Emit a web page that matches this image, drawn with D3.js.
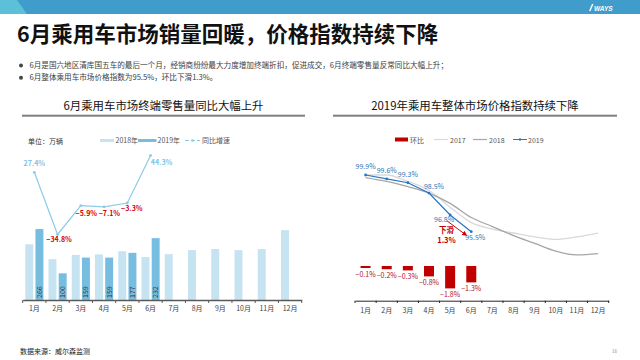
<!DOCTYPE html>
<html><head><meta charset="utf-8">
<script src="https://cdn.jsdelivr.net/npm/d3@7"></script>
<style>
body{margin:0;background:#fff;}
svg{display:block;font-family:"Noto Sans CJK SC","Noto Sans",sans-serif;}
</style></head>
<body>
<svg id="c" width="640" height="360"></svg>
<script>
// ---------- data ----------
const months = ["1月","2月","3月","4月","5月","6月","7月","8月","9月","10月","11月","12月"];
const sales2018 = [209,153,169,171,183,161,172,187,191,187,191,262];
const sales2019 = [266,100,159,159,177,232];
const yoyGrowth = [27.4,-34.8,-5.9,-7.1,-3.3,44.3];
const yoyLabels = ["27.4%","−34.8%","−5.9%","−7.1%","−3.3%","44.3%"];
const index2017 = [99.9,99.9,99.4,98.7,97.4,96.2,95.7,95.4,95.1,94.9,95.1,95.4];
const index2018 = [99.7,99.4,99.0,98.5,97.7,96.6,95.9,95.2,94.6,94.0,93.7,93.8];
const index2019 = [99.9,99.6,99.3,98.5,96.8,95.5];
const momChange = [-0.1,-0.2,-0.3,-0.8,-1.8,-1.3];
const titleText = "6月乘用车市场销量回暖，价格指数持续下降";
const bullets = ["6月是国六地区清库国五车的最后一个月，经销商纷纷最大力度增加终端折扣，促进成交，6月终端零售量反常同比大幅上升；",
                 "6月整体乘用车市场价格指数为95.5%，环比下滑1.3%。"];
const leftTitle = "6月乘用车市场终端零售量同比大幅上升";
const rightTitle = "2019年乘用车整体市场价格指数持续下降";

const svg = d3.select("#c");

// ---------- header ----------
svg.append("rect").attr("x",0).attr("y",0).attr("width",640).attr("height",14).attr("fill","#3f9ccb");
svg.append("path").attr("d","M0,0 L17,0 L27,14 L0,14 Z").attr("fill","#5cc0d8");
svg.append("path").attr("d","M589,11 L592,4 L593.5,4 L590.5,11 Z").attr("fill","#fff");
svg.append("text").attr("x",594).attr("y",10.5).attr("fill","#fff").attr("font-size",6.5)
  .attr("font-weight",700).attr("font-style","italic").attr("font-family","Liberation Sans, sans-serif").text("WAYS");

svg.append("text").attr("x",17).attr("y",42).attr("font-size",21.5).attr("font-weight",700)
  .attr("fill","#111").text(titleText);

bullets.forEach((b,i)=>{
  const y = 65.5 + i*12.2;
  svg.append("circle").attr("cx",21).attr("cy",y).attr("r",2).attr("fill","#444");
  svg.append("text").attr("x",29.5).attr("y",y+2.6).attr("font-size",7.6).attr("fill","#404040").text(b);
});

// chart titles
svg.append("text").attr("x",163.5).attr("y",110).attr("text-anchor","middle").attr("font-size",11.4).attr("fill","#111").text(leftTitle);
svg.append("rect").attr("x",22).attr("y",114.7).attr("width",283).attr("height",2).attr("fill","#7f7f7f");
svg.append("text").attr("x",475).attr("y",110).attr("text-anchor","middle").attr("font-size",11.4).attr("fill","#111").text(rightTitle);
svg.append("rect").attr("x",333).attr("y",114.7).attr("width",284).attr("height",2).attr("fill","#7f7f7f");

// ---------- left chart ----------
const cLight="#c6e3f1", cDark="#77bde0", cLine="#8ccbe8";
const xL = d3.scaleBand().domain(months).range([22.7,301.7]);
const xLin = d3.scaleBand().domain(["2018","2019"]).range([0,xL.bandwidth()]).paddingInner(0.22).paddingOuter(0.25);
const yBar = d3.scaleLinear().domain([0,300]).range([300,220]);
const yPct = d3.scaleLinear().domain([-40,50]).range([239.7,149.7]);
const gL = svg.append("g");

// legend
gL.append("text").attr("x",28).attr("y",144).attr("font-size",7).attr("fill","#333").text("单位：万辆");
gL.append("rect").attr("x",100).attr("y",139).attr("width",14).attr("height",3).attr("fill",cLight);
gL.append("text").attr("x",115.5).attr("y",143).attr("font-size",7).attr("fill","#555").text("2018年");
gL.append("rect").attr("x",138).attr("y",139).attr("width",18.5).attr("height",3).attr("fill",cDark);
gL.append("text").attr("x",157.5).attr("y",143).attr("font-size",7).attr("fill","#555").text("2019年");
gL.append("line").attr("x1",185).attr("x2",200).attr("y1",140.5).attr("y2",140.5).attr("stroke",cLine).attr("stroke-width",1).attr("stroke-dasharray","4,2");
gL.append("circle").attr("cx",192.5).attr("cy",140.5).attr("r",1.3).attr("fill",cLine);
gL.append("text").attr("x",202).attr("y",143).attr("font-size",7).attr("fill","#555").text("同比增速");

// bars
gL.selectAll(".b18").data(sales2018).join("rect")
  .attr("x",(d,i)=>xL(months[i])+xLin("2018")).attr("width",xLin.bandwidth())
  .attr("y",d=>yBar(d)).attr("height",d=>yBar(0)-yBar(d)).attr("fill",cLight);
gL.selectAll(".b19").data(sales2019).join("rect")
  .attr("x",(d,i)=>xL(months[i])+xLin("2019")).attr("width",xLin.bandwidth())
  .attr("y",d=>yBar(d)).attr("height",d=>yBar(0)-yBar(d)).attr("fill",cDark);
gL.selectAll(".v19").data(sales2019).join("text")
  .attr("transform",(d,i)=>`translate(${xL(months[i])+xLin("2019")+xLin.bandwidth()/2+2.4},${yBar(0)-2}) rotate(-90)`)
  .attr("font-size",7).attr("fill","#333").text(d=>d);

// axis
const axL = gL.append("g").attr("transform","translate(0,300)")
  .call(d3.axisBottom(xL).tickSize(0).tickPadding(6));
axL.select(".domain").attr("stroke","#595959").attr("stroke-width",1.5);
axL.selectAll("text").attr("font-size",7).attr("fill","#404040").attr("font-family","Noto Sans CJK SC");
gL.selectAll(".tkL").data(months.concat(["end"])).join("line")
  .attr("x1",(d,i)=>i<12?xL(d):xL.range()[1]).attr("x2",(d,i)=>i<12?xL(d):xL.range()[1])
  .attr("y1",300).attr("y2",303).attr("stroke","#595959").attr("stroke-width",1);

// growth line
const lineL = d3.line().x((d,i)=>xL(months[i])+xL.bandwidth()/2).y(d=>yPct(d));
gL.append("path").datum(yoyGrowth).attr("d",lineL).attr("fill","none").attr("stroke",cLine).attr("stroke-width",1.2);
gL.selectAll(".dotL").data(yoyGrowth).join("circle")
  .attr("cx",(d,i)=>xL(months[i])+xL.bandwidth()/2).attr("cy",d=>yPct(d)).attr("r",1.4).attr("fill",cLine);
const lblOff = [[0,-9],[1.5,5],[5.5,7.4],[5.3,6.2],[4.5,5.7],[11,7.4]];
gL.selectAll(".lblL").data(yoyGrowth).join("text")
  .attr("x",(d,i)=>xL(months[i])+xL.bandwidth()/2+lblOff[i][0])
  .attr("y",(d,i)=>yPct(d)+lblOff[i][1]+2.5)
  .attr("text-anchor","middle").attr("font-size",7).attr("font-weight",700)
  .attr("fill",d=>d>0?"#7ec3e4":"#d00000").text((d,i)=>yoyLabels[i]);

// ---------- right chart ----------
const cRed="#c00000", c17="#d9d9d9", c18="#a6a6a6", c19="#2676c4";
const xR = d3.scaleBand().domain(months).range([355,608.7]);
const cx = i=>xR(months[i])+xR.bandwidth()/2;
const yIdx = d3.scaleLinear().domain([93,100]).range([175+6.9*12.89,175-0.1*12.89]);
const yMom = d3.scaleLinear().domain([-2,0]).range([290,266]);
const gR = svg.append("g");

// legend
gR.append("rect").attr("x",395).attr("y",137.5).attr("width",13).attr("height",4).attr("fill",cRed);
gR.append("text").attr("x",410).attr("y",142.5).attr("font-size",7).attr("fill","#555").text("环比");
gR.append("line").attr("x1",434).attr("x2",448).attr("y1",139.5).attr("y2",139.5).attr("stroke",c17).attr("stroke-width",1.2);
gR.append("text").attr("x",450).attr("y",142.5).attr("font-size",7).attr("fill","#555").text("2017");
gR.append("line").attr("x1",473).attr("x2",487).attr("y1",139.5).attr("y2",139.5).attr("stroke",c18).attr("stroke-width",1.2);
gR.append("text").attr("x",489).attr("y",142.5).attr("font-size",7).attr("fill","#555").text("2018");
gR.append("line").attr("x1",513).attr("x2",527).attr("y1",139.5).attr("y2",139.5).attr("stroke",c19).attr("stroke-width",1);
gR.append("circle").attr("cx",520).attr("cy",139.5).attr("r",1.2).attr("fill",c19);
gR.append("text").attr("x",528).attr("y",142.5).attr("font-size",7).attr("fill","#555").text("2019");

// mom bars
gR.selectAll(".mb").data(momChange).join("rect")
  .attr("x",(d,i)=>cx(i)-5).attr("width",10)
  .attr("y",yMom(0)).attr("height",d=>yMom(d)-yMom(0)+0.8).attr("fill",cRed);
gR.selectAll(".ml").data(momChange).join("text")
  .attr("x",(d,i)=>cx(i)).attr("y",d=>yMom(d)+9.5).attr("text-anchor","middle")
  .attr("font-size",7).attr("fill","#b0102a").text(d=>"−"+Math.abs(d).toFixed(1)+"%");

// index lines
const lineSmooth = d3.line().x((d,i)=>cx(i)).y(d=>yIdx(d)).curve(d3.curveMonotoneX);
gR.append("path").datum(index2017).attr("d",lineSmooth).attr("fill","none").attr("stroke",c17).attr("stroke-width",1.3);
gR.append("path").datum(index2018).attr("d",lineSmooth).attr("fill","none").attr("stroke",c18).attr("stroke-width",1.3);
const line19 = d3.line().x((d,i)=>cx(i)).y(d=>yIdx(d));
gR.append("path").datum(index2019).attr("d",line19).attr("fill","none").attr("stroke",c19).attr("stroke-width",1.2);
gR.selectAll(".d19").data(index2019).join("circle")
  .attr("cx",(d,i)=>cx(i)).attr("cy",d=>yIdx(d)).attr("r",1.4).attr("fill",c19);
const off19 = [[0,-9],[0,-8],[0,-8],[5,-7],[-6,5],[4,5.6]];
gR.selectAll(".l19").data(index2019).join("text")
  .attr("x",(d,i)=>cx(i)+off19[i][0]).attr("y",(d,i)=>yIdx(d)+off19[i][1]+2.5)
  .attr("text-anchor","middle").attr("font-size",7).attr("fill","#2e75b6")
  .text(d=>d.toFixed(1)+"%");

// annotation arrow
svg.append("defs").append("marker").attr("id","arr").attr("viewBox","0 0 10 10").attr("refX",8).attr("refY",5)
  .attr("markerWidth",5).attr("markerHeight",5).attr("orient","auto")
  .append("path").attr("d","M0,0 L10,5 L0,10 Z").attr("fill","#d00000");
gR.append("line").attr("x1",cx(4)-3).attr("y1",yIdx(index2019[4])+6)
  .attr("x2",cx(5)-5).attr("y2",yIdx(index2019[5])+3.5)
  .attr("stroke","#d00000").attr("stroke-width",1).attr("marker-end","url(#arr)");
gR.append("text").attr("x",446.5).attr("y",233).attr("text-anchor","middle").attr("font-size",7.5).attr("font-weight",700).attr("fill","#c00000").text("下滑");
gR.append("text").attr("x",446.5).attr("y",243).attr("text-anchor","middle").attr("font-size",7.5).attr("font-weight",700).attr("fill","#c00000").text("1.3%");

// right axis
const axR = gR.append("g").attr("transform","translate(0,300.7)")
  .call(d3.axisBottom(xR).tickSize(0).tickPadding(7));
axR.select(".domain").attr("stroke","#262626").attr("stroke-width",1);
axR.selectAll("text").attr("font-size",7).attr("fill","#404040").attr("font-family","Noto Sans CJK SC");
gR.selectAll(".tkR").data(months.concat(["end"])).join("line")
  .attr("x1",(d,i)=>i<12?xR(d):xR.range()[1]).attr("x2",(d,i)=>i<12?xR(d):xR.range()[1])
  .attr("y1",300.7).attr("y2",303).attr("stroke","#262626").attr("stroke-width",1);

// footer
svg.append("text").attr("x",20).attr("y",353.5).attr("font-size",7).attr("fill","#222").text("数据来源：威尔森监测");
svg.append("text").attr("x",612).attr("y",353).attr("font-size",4.5).attr("fill","#888").text("16");
</script>
</body></html>
